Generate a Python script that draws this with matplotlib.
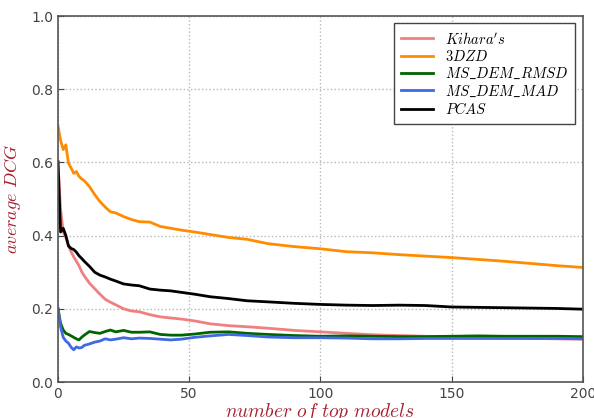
import matplotlib
matplotlib.use('Agg')
import matplotlib.pyplot as plt

plt.rcParams['mathtext.fontset'] = 'cm'

x = [0, 1, 2, 3, 4, 5, 6, 7, 8, 9, 10, 12, 14, 16, 18, 20, 22, 25, 28, 31, 35, 39, 43, 47,
     52, 58, 65, 72, 80, 90, 100, 110, 120, 130, 140, 150, 160, 170, 180, 190, 200]

kihara = [0.60, 0.47, 0.41, 0.395, 0.372, 0.356, 0.342, 0.330, 0.318, 0.302, 0.290, 0.270,
          0.255, 0.240, 0.226, 0.218, 0.211, 0.200, 0.194, 0.192, 0.184, 0.178, 0.175, 0.172,
          0.167, 0.159, 0.154, 0.151, 0.147, 0.141, 0.137, 0.133, 0.129, 0.127, 0.125, 0.123,
          0.121, 0.120, 0.119, 0.118, 0.117]
zd3 = [0.70, 0.66, 0.635, 0.648, 0.598, 0.585, 0.570, 0.575, 0.562, 0.555, 0.550, 0.534,
       0.512, 0.493, 0.478, 0.465, 0.462, 0.452, 0.444, 0.438, 0.437, 0.425, 0.420, 0.415,
       0.410, 0.403, 0.395, 0.390, 0.378, 0.370, 0.364, 0.356, 0.353, 0.348, 0.344, 0.340,
       0.335, 0.330, 0.324, 0.318, 0.313]
rmsd = [0.201, 0.16, 0.142, 0.133, 0.130, 0.126, 0.122, 0.118, 0.115, 0.122, 0.128, 0.138,
        0.135, 0.133, 0.138, 0.142, 0.137, 0.141, 0.136, 0.136, 0.137, 0.130, 0.128, 0.128,
        0.131, 0.136, 0.137, 0.133, 0.130, 0.127, 0.125, 0.126, 0.125, 0.124, 0.124, 0.125,
        0.126, 0.125, 0.125, 0.125, 0.124]
mad = [0.201, 0.15, 0.122, 0.112, 0.106, 0.095, 0.088, 0.096, 0.093, 0.094, 0.100, 0.104,
       0.109, 0.112, 0.118, 0.115, 0.117, 0.121, 0.118, 0.120, 0.119, 0.117, 0.115, 0.117,
       0.122, 0.126, 0.130, 0.127, 0.123, 0.121, 0.121, 0.120, 0.118, 0.118, 0.119, 0.119,
       0.119, 0.119, 0.119, 0.119, 0.118]
pcas = [0.602, 0.41, 0.42, 0.40, 0.372, 0.365, 0.362, 0.355, 0.345, 0.338, 0.330, 0.316,
        0.300, 0.292, 0.287, 0.281, 0.276, 0.268, 0.265, 0.263, 0.254, 0.251, 0.249, 0.245,
        0.240, 0.233, 0.228, 0.222, 0.219, 0.215, 0.212, 0.210, 0.209, 0.210, 0.209, 0.205,
        0.204, 0.203, 0.202, 0.201, 0.199]

fig = plt.figure(figsize=(5.94, 4.18), dpi=100)
ax = fig.add_axes([0.0976, 0.0861, 0.8834, 0.8756])

ax.plot(x, kihara, color='#f08080', lw=2, label=r"$Kihara's$")
ax.plot(x, zd3, color='#ff8c00', lw=2, label=r'$3DZD$')
ax.plot(x, rmsd, color='#006400', lw=2, label=r'$MS\_DEM\_RMSD$')
ax.plot(x, mad, color='#4169e1', lw=2, label=r'$MS\_DEM\_MAD$')
ax.plot(x, pcas, color='black', lw=2, label=r'$PCAS$')

ax.set_xlim(0, 200)
ax.set_ylim(0, 1.0)
ax.set_xticks([0, 50, 100, 150, 200])
ax.set_yticks([0.0, 0.2, 0.4, 0.6, 0.8, 1.0])
ax.grid(True, linestyle=':', color='#b8b8b8', lw=1)
ax.tick_params(direction='in', colors='#444444', labelsize=10, length=4)
for s in ax.spines.values():
    s.set_color('#555555')
    s.set_linewidth(1.2)

ax.set_xlabel(r'$number\ of\ top\ models$', color='#a52030', fontsize=14, labelpad=0)
ax.set_ylabel(r'$average\ DCG$', color='#a52030', fontsize=13, labelpad=6)

leg = ax.legend(loc='upper right', fontsize=10.5, fancybox=False, framealpha=1,
                edgecolor='#444444', handlelength=2.2, labelspacing=0.15,
                borderaxespad=0.5, borderpad=0.5)

plt.savefig('out.png', dpi=100)
